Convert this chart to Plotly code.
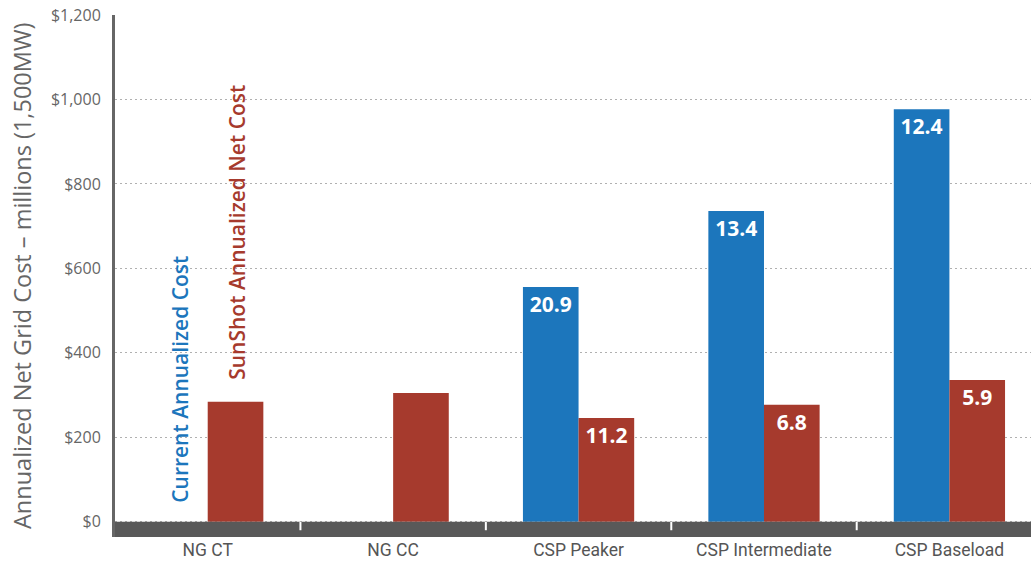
import plotly.graph_objects as go

categories = ["NG CT", "NG CC", "CSP Peaker", "CSP Intermediate", "CSP Baseload"]
current_cost = [None, None, 556, 736, 977]
sunshot_cost = [284, 305, 246, 277, 336]
current_labels = ["", "", "20.9", "13.4", "12.4"]
sunshot_labels = ["", "", "11.2", "6.8", "5.9"]
y_ticks = [0, 200, 400, 600, 800, 1000, 1200]
y_tick_text = ["$0", "$200", "$400", "$600", "$800", "$1,000", "$1,200"]

BLUE = "#1c76bc"
RED = "#a63a2d"
GRAY = "#666666"

fig = go.Figure()
fig.add_trace(go.Bar(
    x=categories, y=current_cost, name="Current Annualized Cost",
    marker=dict(color=BLUE, line=dict(width=0)),
    text=current_labels, textposition="inside", insidetextanchor="end",
    textangle=0, constraintext="none",
    textfont=dict(color="white", size=21, family="Open Sans", weight="bold"),
))
fig.add_trace(go.Bar(
    x=categories, y=sunshot_cost, name="SunShot Annualized Net Cost",
    marker=dict(color=RED, line=dict(width=0)),
    text=sunshot_labels, textposition="inside", insidetextanchor="end",
    textangle=0, constraintext="none",
    textfont=dict(color="white", size=21, family="Open Sans", weight="bold"),
))

# dark base band below zero
fig.add_shape(type="rect", xref="paper", x0=0, x1=1, yref="y", y0=-36, y1=0,
              fillcolor="#595959", line=dict(width=0), layer="above")
# white separators between categories
for i in range(len(categories) - 1):
    fig.add_shape(type="line", xref="x", x0=i + 0.5, x1=i + 0.5, yref="y",
                  y0=-20, y1=0, line=dict(color="white", width=2), layer="above")

# rotated series labels
fig.add_annotation(x=0, y=338, xref="x", yref="y", xshift=-28,
                   text="Current Annualized Cost", textangle=-90, showarrow=False,
                   font=dict(color=BLUE, size=21, family="Open Sans", weight=600))
fig.add_annotation(x=0, y=686, xref="x", yref="y", xshift=29,
                   text="SunShot Annualized Net Cost", textangle=-90, showarrow=False,
                   font=dict(color=RED, size=21, family="Open Sans", weight=600))

# y-axis title
fig.add_annotation(x=0, y=0.5, xref="paper", yref="paper", xshift=-93,
                   xanchor="center", yanchor="middle",
                   text="Annualized Net Grid Cost – millions (1,500MW)",
                   textangle=-90, showarrow=False,
                   font=dict(family="Open Sans", size=23.5, color=GRAY))

fig.update_layout(
    width=1031, height=565,
    margin=dict(l=115, r=0, t=15, b=28),
    paper_bgcolor="white", plot_bgcolor="white",
    barmode="group", bargap=0.4, bargroupgap=0,
    showlegend=False,
    xaxis=dict(
        type="category", range=[-0.5, 4.44],
        showgrid=False, showline=False, zeroline=False, ticks="",
        tickfont=dict(family="Roboto", size=17.5, color="#555555"),
    ),
    yaxis=dict(
        range=[-36, 1200], tickvals=y_ticks, ticktext=y_tick_text,
        showgrid=True, gridcolor="#b0b0b0", griddash="2px,3px", gridwidth=1,
        zeroline=False,
        showline=True, linecolor=GRAY, linewidth=3,
        ticks="outside", ticklen=8, tickcolor="rgba(0,0,0,0)",
        tickfont=dict(family="Open Sans", size=16, color=GRAY),
    ),
)

fig.write_html("out.html")
